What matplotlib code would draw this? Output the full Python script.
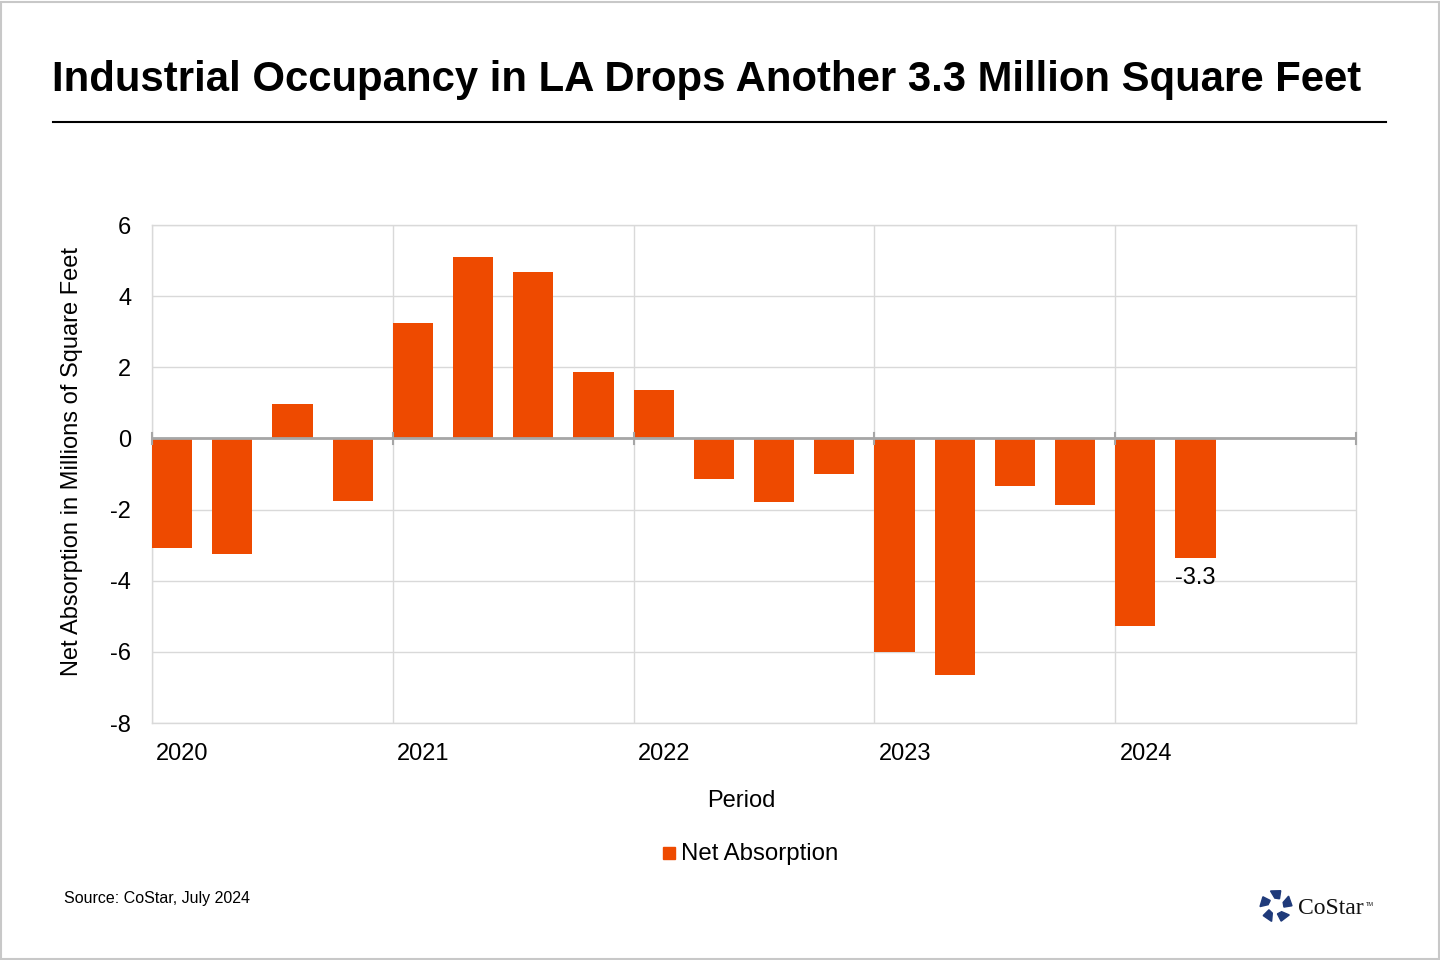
import matplotlib
matplotlib.use("Agg")
import matplotlib.pyplot as plt
from matplotlib.patches import Polygon, Rectangle
import numpy as np

plt.rcParams["font.family"] = ["Liberation Sans", "DejaVu Sans"]

# quarterly net absorption, millions of sq ft (2020 Q1 .. 2024 Q2)
quarters = ["2020Q1", "2020Q2", "2020Q3", "2020Q4",
            "2021Q1", "2021Q2", "2021Q3", "2021Q4",
            "2022Q1", "2022Q2", "2022Q3", "2022Q4",
            "2023Q1", "2023Q2", "2023Q3", "2023Q4",
            "2024Q1", "2024Q2"]
net_absorption = [-3.07, -3.24, 0.96, -1.77,
                  3.24, 5.10, 4.68, 1.86,
                  1.35, -1.13, -1.80, -0.99,
                  -6.00, -6.65, -1.35, -1.86,
                  -5.28, -3.37]
years = ["2020", "2021", "2022", "2023", "2024"]
last_label = "-3.3"

orange = "#EE4A00"
W, H = 1440, 960

fig = plt.figure(figsize=(14.4, 9.6), dpi=100, facecolor="white")

# outer frame
fig.patches.append(Rectangle((0.001, 0.001), 0.998, 0.997, transform=fig.transFigure,
                             fill=False, edgecolor="#C8C8C8", linewidth=1.5))

fig.text(52 / W, 1 - 80 / H, "Industrial Occupancy in LA Drops Another 3.3 Million Square Feet",
         fontsize=30.2, fontweight="bold", ha="left", va="center", color="black")
fig.add_artist(plt.Line2D([53 / W, 1386 / W], [1 - 122 / H, 1 - 122 / H],
                          color="black", linewidth=1.5, transform=fig.transFigure))

ax = fig.add_axes([152 / W, 1 - 723 / H, 1204 / W, (723 - 225) / H])

x = np.arange(len(net_absorption))
ax.bar(x, net_absorption, width=0.667, align="edge", color=orange, zorder=3)

ax.set_xlim(0, 20)
ax.set_ylim(-8, 6)
ax.set_yticks(range(-8, 7, 2))
ax.set_yticklabels([str(v) for v in range(-8, 7, 2)], fontsize=17)
ax.tick_params(axis="y", length=0, pad=15)

ax.set_xticks([4 * i for i in range(len(years))])
ax.set_xticklabels([])
ax.tick_params(axis="x", length=0)
for i, yr in enumerate(years):
    ax.text(4 * i + 0.07, -8.55, yr, fontsize=17, ha="left", va="top")

ax.grid(True, color="#D9D9D9", linewidth=1, zorder=0)
for s in ax.spines.values():
    s.set_color("#D9D9D9")
    s.set_linewidth(1)

# zero line with year ticks
ax.axhline(0, color="#A6A6A6", linewidth=2, zorder=4)
for i in range(6):
    ax.plot([4 * i, 4 * i], [-0.15, 0.15], color="#A6A6A6", linewidth=1.5, zorder=4,
            clip_on=False)

ax.text(len(net_absorption) - 1 + 0.333, net_absorption[-1] - 0.25, last_label,
        fontsize=17, ha="center", va="top", zorder=5)

fig.text(741 / W, 1 - 801 / H, "Period", fontsize=17, ha="center", va="center")
fig.text(72 / W, 1 - 462 / H, "Net Absorption in Millions of Square Feet", fontsize=17,
         rotation=90, ha="center", va="center")

# legend
fig.patches.append(Rectangle((663 / W, 1 - 859 / H), 12 / W, 12 / H,
                             transform=fig.transFigure, color=orange))
fig.text(681 / W, 1 - 854 / H, "Net Absorption", fontsize=17.3, ha="left", va="center")

fig.text(64 / W, 1 - 899 / H, "Source: CoStar, July 2024", fontsize=11.5, ha="left", va="center")

# logo mark
cx, cy = 1276, 906
navy = "#1F3A7A"
ang = np.deg2rad(np.arange(5) * 72 + 90)
for a in ang:
    pts = []
    for da, r in [(-0.45, 8), (-0.3, 16), (0.35, 16), (0.15, 8)]:
        pts.append(((cx + r * np.cos(a + da)) / W, 1 - (cy - r * np.sin(a + da)) / H))
    fig.patches.append(Polygon(pts, closed=True, transform=fig.transFigure,
                               color=navy))
fig.text(1298 / W, 1 - 908 / H, "CoStar", fontsize=17, family="Liberation Serif",
         ha="left", va="center", color="#111111")
fig.text(1366 / W, 1 - 904 / H, "TM", fontsize=4, ha="left", va="center", color="#111111")

fig.savefig("out.png", dpi=100, facecolor="white")
